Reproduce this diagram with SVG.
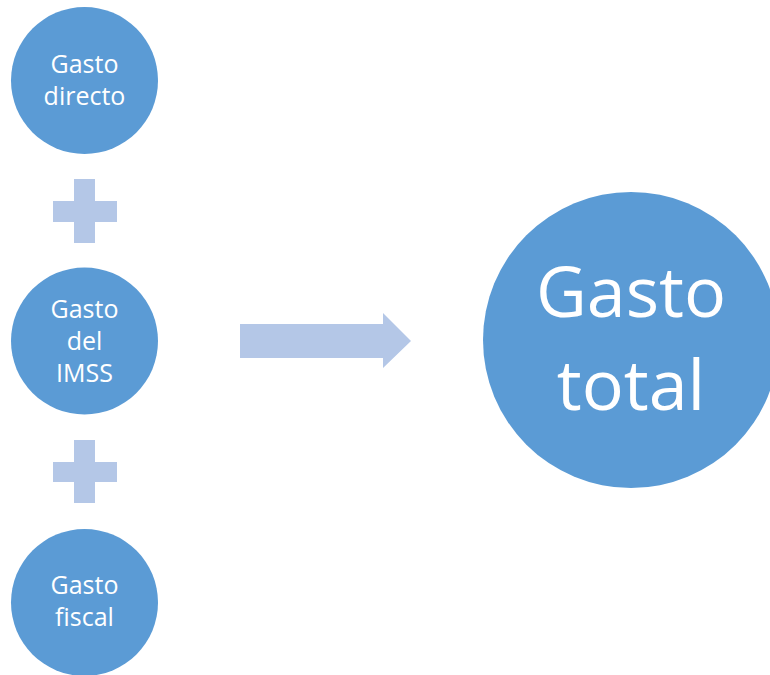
<svg xmlns="http://www.w3.org/2000/svg" width="770" height="675" viewBox="0 0 770 675">
<style>
.c{fill:#5B9BD5}
.l{fill:#B4C7E7}
.t{fill:#fff;font-family:"Open Sans","Noto Sans",sans-serif;text-anchor:middle}
.s{font-size:25px}
.b{font-size:70px}
</style>
<rect width="770" height="675" fill="#fff"/>
<g id="gasto-directo">
<circle class="c" cx="84.5" cy="80.5" r="73.5"/>
<text class="t s" x="84.5" y="73">Gasto</text>
<text class="t s" x="84.5" y="105">directo</text>
</g>
<g id="plus1">
<path class="l" d="M74 179H95V201H117V222H95V243H74V222H53V201H74Z"/>
</g>
<g id="gasto-imss">
<circle class="c" cx="84.5" cy="341" r="73.5"/>
<text class="t s" x="84.5" y="318">Gasto</text>
<text class="t s" x="84.5" y="350">del</text>
<text class="t s" x="84.5" y="382">IMSS</text>
</g>
<g id="plus2">
<path class="l" d="M74 440H95V462H117V482H95V503H74V482H53V462H74Z"/>
</g>
<g id="gasto-fiscal">
<circle class="c" cx="84.5" cy="602.5" r="73.5"/>
<text class="t s" x="84.5" y="594">Gasto</text>
<text class="t s" x="84.5" y="626">fiscal</text>
</g>
<g id="connectors">
<path class="l" d="M240 324H383V313L411 341L383 368V358H240Z"/>
</g>
<g id="gasto-total">
<circle class="c" cx="631" cy="340" r="148"/>
<text class="t b" x="631" y="317">Gasto</text>
<text class="t b" x="631" y="410">total</text>
</g>
</svg>
